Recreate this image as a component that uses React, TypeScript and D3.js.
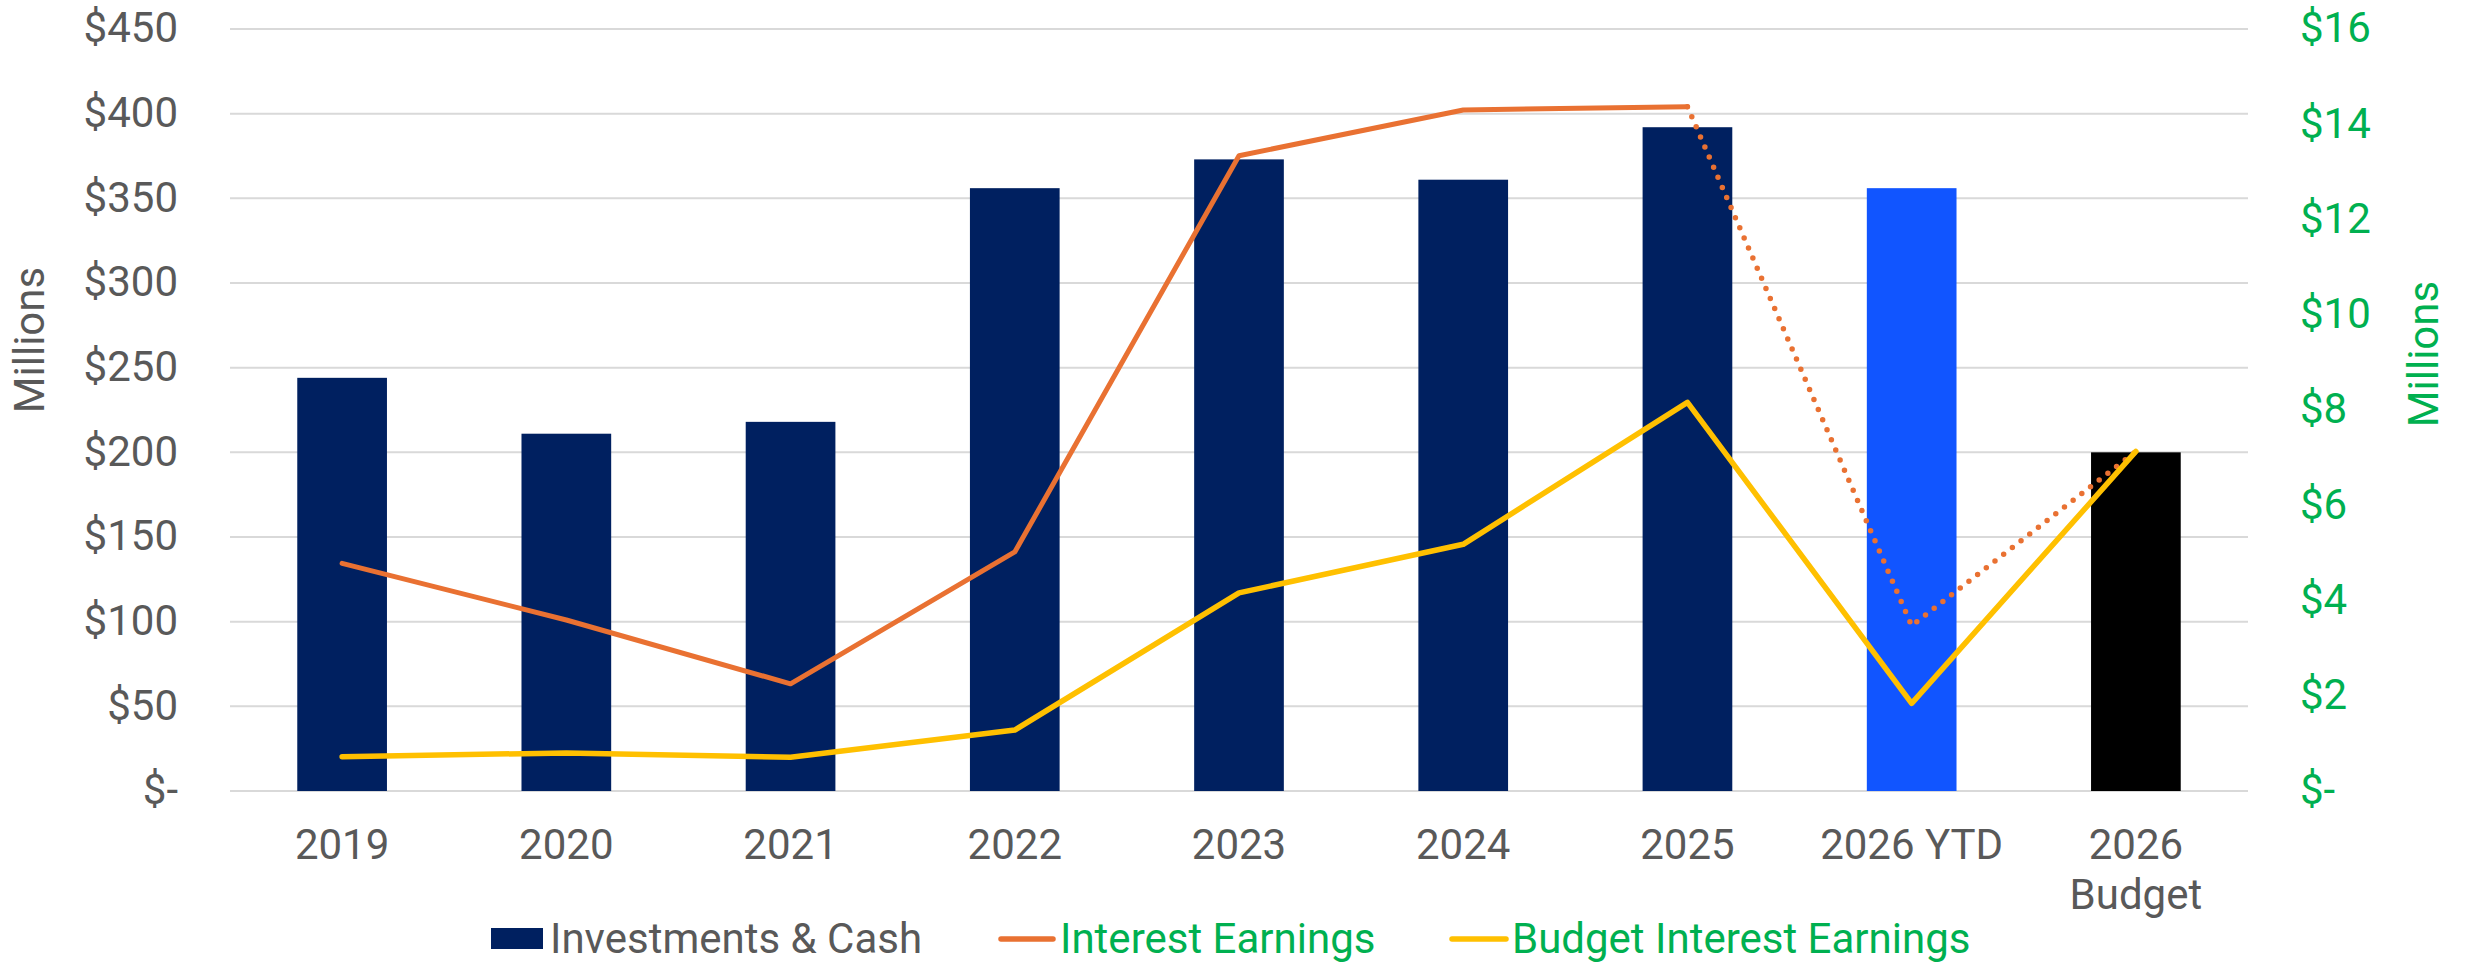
import React from "react";
import * as d3 from "d3";

const categories = ["2019", "2020", "2021", "2022", "2023", "2024", "2025", "2026 YTD", "2026\nBudget"];
const investments = [244, 211, 218, 356, 373, 361, 392, 356, 200];
const interestEarnings = [4.78, 3.59, 2.25, 5.02, 13.34, 14.3, 14.37, 3.47, 7.13];
const budgetInterest = [0.72, 0.8, 0.71, 1.28, 4.16, 5.18, 8.16, 1.84, 7.13];
const barColors = ["#002060", "#002060", "#002060", "#002060", "#002060", "#002060", "#002060", "#1155FF", "#000000"];
const leftTicks = [0, 50, 100, 150, 200, 250, 300, 350, 400, 450];
const rightTicks = [0, 2, 4, 6, 8, 10, 12, 14, 16];
const legendLabels = ["Investments & Cash", "Interest Earnings", "Budget Interest Earnings"];

const W = 2466;
const H = 963;
const M = { left: 230, right: 2248, top: 29, bottom: 791 };
const FONT = "Roboto, 'Noto Sans', Arial, sans-serif";
const FS = 42;
const GRAY = "#595959";
const GREEN = "#00B050";
const ORANGE = "#E97132";
const YELLOW = "#FFC000";

export default function App() {
  const x = d3.scaleBand<string>().domain(categories).range([M.left, M.right]).paddingInner(0.6).paddingOuter(0.3);
  const yL = d3.scaleLinear().domain([0, 450]).range([M.bottom, M.top]);
  const yR = d3.scaleLinear().domain([0, 16]).range([M.bottom, M.top]);
  const cx = (c: string) => (x(c) as number) + x.bandwidth() / 2;

  const line = d3
    .line<number>()
    .x((_, i) => cx(categories[i]))
    .y((d) => yR(d));

  const solidIdx = [0, 1, 2, 3, 4, 5, 6];
  const dotIdx = [6, 7, 8];
  const idxLine = d3
    .line<number>()
    .x((i) => cx(categories[i]))
    .y((i) => yR(interestEarnings[i]));
  const solidPath = idxLine(solidIdx) as string;
  const dotPath = idxLine(dotIdx) as string;

  const fmtL = (v: number) => (v === 0 ? "$-" : `$${v}`);

  return (
    <svg
      width={W}
      height={H}
      viewBox={`0 0 ${W} ${H}`}
      style={{ position: "absolute", left: 0, top: 0, background: "#fff" }}
      fontFamily={FONT}
    >
      <rect x={0} y={0} width={W} height={H} fill="#fff" />
      {leftTicks.map((t) => (
        <line key={"g" + t} x1={M.left} x2={M.right} y1={yL(t)} y2={yL(t)} stroke="#D9D9D9" strokeWidth={2} />
      ))}
      {leftTicks.map((t) => (
        <text key={"l" + t} x={178} y={yL(t)} dy="0.32em" textAnchor="end" fontSize={FS} fill={GRAY}>
          {fmtL(t)}
        </text>
      ))}
      {rightTicks.map((t) => (
        <text key={"r" + t} x={2300} y={yR(t)} dy="0.32em" textAnchor="start" fontSize={FS} fill={GREEN}>
          {fmtL(t)}
        </text>
      ))}
      <text transform="translate(44,340) rotate(-90)" textAnchor="middle" fontSize={FS} fill={GRAY}>
        Millions
      </text>
      <text transform="translate(2438,354) rotate(-90)" textAnchor="middle" fontSize={FS} fill={GREEN}>
        Millions
      </text>
      {categories.map((c, i) => (
        <rect
          key={"b" + c}
          x={x(c)}
          y={yL(investments[i])}
          width={x.bandwidth()}
          height={yL(0) - yL(investments[i])}
          fill={barColors[i]}
        />
      ))}
      {categories.map((c) => (
        <text key={"c" + c} x={cx(c)} y={859} textAnchor="middle" fontSize={FS} fill={GRAY}>
          {c.split("\n").map((part, j) => (
            <tspan key={j} x={cx(c)} dy={j === 0 ? 0 : 50}>
              {part}
            </tspan>
          ))}
        </text>
      ))}
      <path d={solidPath} fill="none" stroke={ORANGE} strokeWidth={5} strokeLinecap="round" strokeLinejoin="round" />
      <path
        d={dotPath}
        fill="none"
        stroke={ORANGE}
        strokeWidth={5.5}
        strokeLinecap="round"
        strokeLinejoin="round"
        strokeDasharray="0 11"
      />
      <path
        d={line(budgetInterest) as string}
        fill="none"
        stroke={YELLOW}
        strokeWidth={5.5}
        strokeLinecap="round"
        strokeLinejoin="round"
      />
      <rect x={491} y={928} width={52} height={21} fill="#002060" />
      <text x={550} y={953} fontSize={FS} fill={GRAY}>
        {legendLabels[0]}
      </text>
      <line x1={1001} x2={1053} y1={939} y2={939} stroke={ORANGE} strokeWidth={5.5} strokeLinecap="round" />
      <text x={1060} y={953} fontSize={FS} fill={GREEN}>
        {legendLabels[1]}
      </text>
      <line x1={1452} x2={1506} y1={939} y2={939} stroke={YELLOW} strokeWidth={5.5} strokeLinecap="round" />
      <text x={1512} y={953} fontSize={FS} fill={GREEN}>
        {legendLabels[2]}
      </text>
    </svg>
  );
}
